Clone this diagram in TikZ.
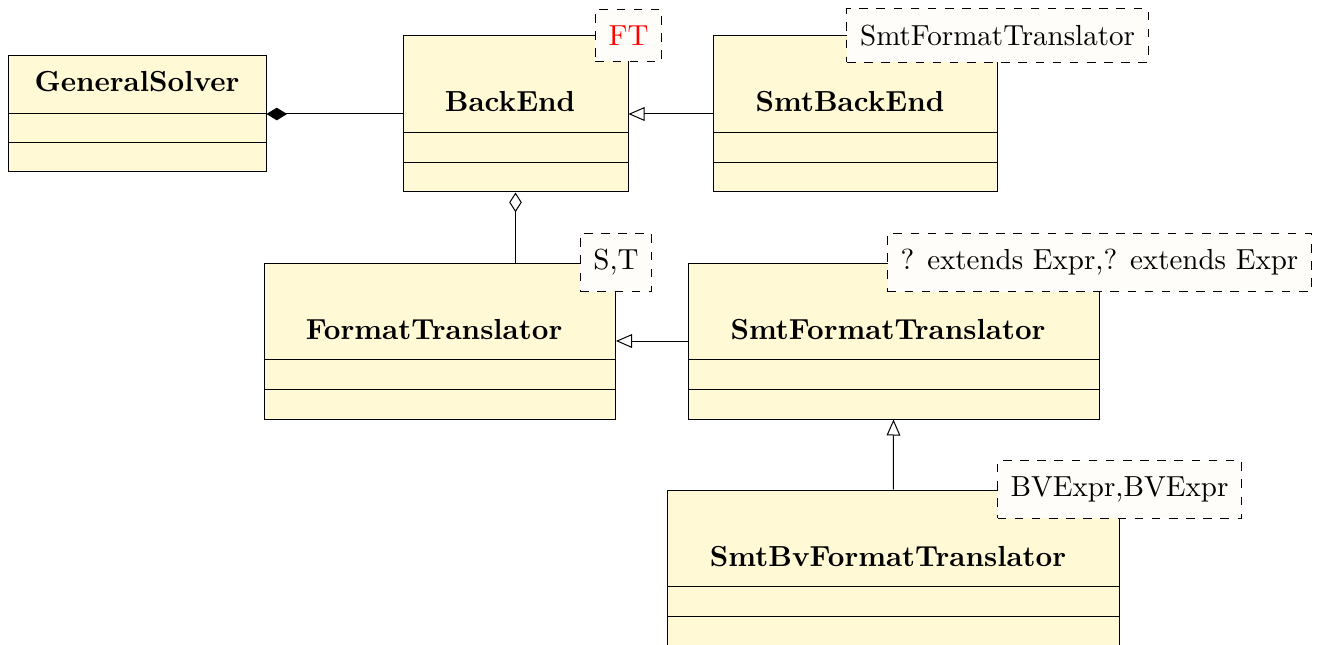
\documentclass[tikz,border=0pt]{standalone}
\usetikzlibrary{arrows.meta,calc}
\definecolor{classfill}{RGB}{255,249,214}
\definecolor{tplfill}{RGB}{255,253,249}
\begin{document}
\begin{tikzpicture}[x=0.35pt,y=-0.35pt,
  every node/.style={font=\fontsize{10.15pt}{12pt}\selectfont},
  classbox/.style={draw=black, fill=classfill, inner sep=0pt, line width=0.35pt},
  classname/.style={font=\fontsize{10.15pt}{12pt}\selectfont\bfseries, anchor=base, inner sep=0pt},
  tplbox/.style={draw=black, dashed, fill=tplfill, line width=0.35pt, inner xsep=4.6pt, inner ysep=5.6pt},
  divider/.style={draw=black, line width=0.35pt},
  rel/.style={line width=0.35pt},
  inherit/.style={rel, -{Triangle[open,length=5.6pt,width=4.8pt]}},
  compos/.style={rel, {Diamond[length=7.2pt,width=4.4pt]}-},
  aggreg/.style={rel, {Diamond[open,length=6.9pt,width=4.4pt]}-},
]
\useasboundingbox (0,0) rectangle (1321,645);

% classes
\node[classbox, minimum width=90.3pt, minimum height=40.6pt] (gs) at (137,114) {};
\node[classname] (gsname) at (137,92) {GeneralSolver};
\draw[divider] ($(gs.north west)+(0,58)$) -- ($(gs.north east)+(0,58)$);
\draw[divider] ($(gs.north west)+(0,87)$) -- ($(gs.north east)+(0,87)$);

\node[classbox, minimum width=78.75pt, minimum height=54.6pt] (be) at (515.5,114) {};
\node[classname] (bename) at (510,112) {BackEnd};
\draw[divider] ($(be.north west)+(0,97)$) -- ($(be.north east)+(0,97)$);
\draw[divider] ($(be.north west)+(0,127)$) -- ($(be.north east)+(0,127)$);

\node[classbox, minimum width=99.225pt, minimum height=54.6pt] (sbe) at (855.25,114) {};
\node[classname] (sbename) at (850,112) {SmtBackEnd};
\draw[divider] ($(sbe.north west)+(0,97)$) -- ($(sbe.north east)+(0,97)$);
\draw[divider] ($(sbe.north west)+(0,127)$) -- ($(sbe.north east)+(0,127)$);

\node[classbox, minimum width=123.025pt, minimum height=54.6pt] (ft) at (439.75,341) {};
\node[classname] (ftname) at (434,339) {FormatTranslator};
\draw[divider] ($(ft.north west)+(0,97)$) -- ($(ft.north east)+(0,97)$);
\draw[divider] ($(ft.north west)+(0,127)$) -- ($(ft.north east)+(0,127)$);

\node[classbox, minimum width=143.85pt, minimum height=54.6pt] (sft) at (893.5,341) {};
\node[classname] (sftname) at (888,339) {SmtFormatTranslator};
\draw[divider] ($(sft.north west)+(0,97)$) -- ($(sft.north east)+(0,97)$);
\draw[divider] ($(sft.north west)+(0,127)$) -- ($(sft.north east)+(0,127)$);

\node[classbox, minimum width=158.025pt, minimum height=54.6pt] (sbv) at (893.25,568) {};
\node[classname] (sbvname) at (888,566) {SmtBvFormatTranslator};
\draw[divider] ($(sbv.north west)+(0,97)$) -- ($(sbv.north east)+(0,97)$);
\draw[divider] ($(sbv.north west)+(0,127)$) -- ($(sbv.north east)+(0,127)$);

% relations
\draw[compos] (gs.east) -- (be.west);
\draw[inherit] (sbe.west) -- (be.east);
\draw[aggreg] (be.south) -- (be.south |- ft.north);
\draw[inherit] (sft.west) -- (ft.east);
\draw[inherit] (sbv.north) -- (sft.south);

% templates
\node[tplbox] (betpl) at (be.north east) {\textcolor{red}{FT}};
\node[tplbox] (sbetpl) at (sbe.north east) {SmtFormatTranslator};
\node[tplbox] (fttpl) at (ft.north east) {S,T};
\node[tplbox] (sfttpl) at (sft.north east) {? extends Expr,? extends Expr};
\node[tplbox] (sbvtpl) at (sbv.north east) {BVExpr,BVExpr};
\end{tikzpicture}
\end{document}
